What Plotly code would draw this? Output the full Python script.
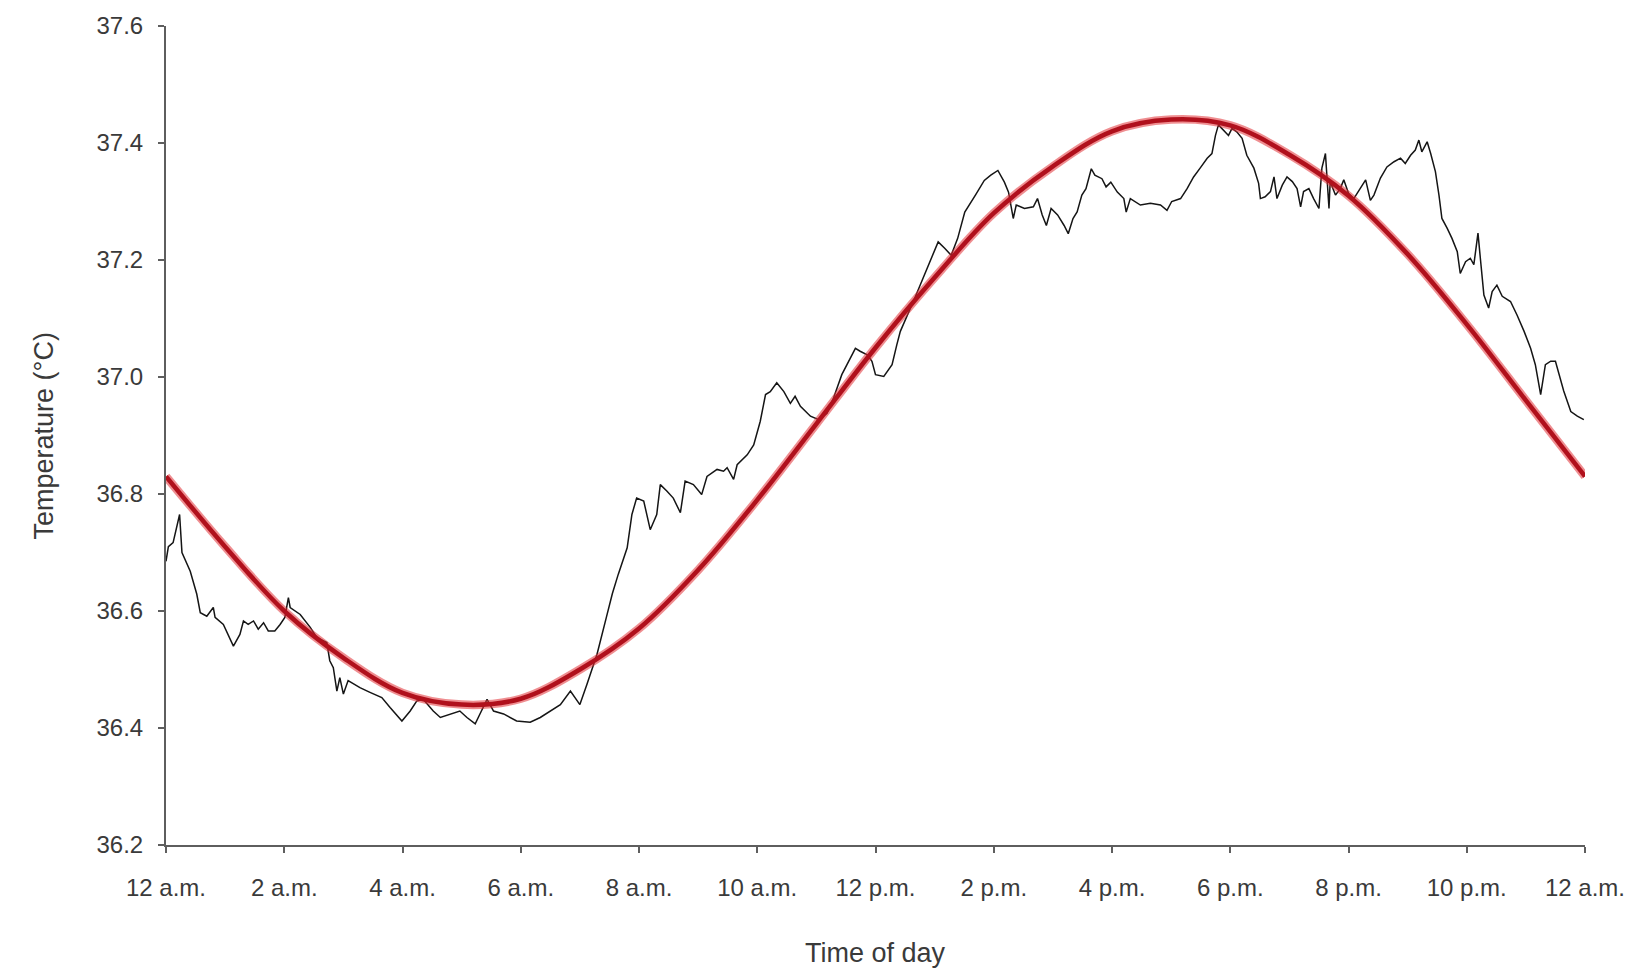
import plotly.graph_objects as go

hours_night = [
    0.00, 0.04, 0.12, 0.23, 0.27, 0.41, 0.52, 0.58, 0.69, 0.80,
    0.83, 0.97, 1.14, 1.25, 1.31, 1.39, 1.48, 1.56, 1.65, 1.73,
    1.84, 1.93, 2.01, 2.07, 2.10, 2.27, 2.44, 2.55, 2.72, 2.77,
    2.83, 2.89, 2.94, 3.00, 3.08, 3.28, 3.45, 3.65, 3.79, 3.99,
    4.13, 4.24, 4.35, 4.52, 4.64, 4.81, 4.97, 5.09, 5.23, 5.31,
    5.43, 5.54, 5.71, 5.93, 6.16, 6.33, 6.50, 6.67, 6.84, 7.00,
    7.12, 7.29, 7.45, 7.55,
]
temp_night = [
    36.685, 36.710, 36.717, 36.765, 36.700, 36.668, 36.629, 36.597, 36.591, 36.606,
    36.589, 36.577, 36.540, 36.560, 36.583, 36.577, 36.583, 36.569, 36.580, 36.566,
    36.566, 36.577, 36.589, 36.623, 36.606, 36.594, 36.572, 36.555, 36.546, 36.515,
    36.503, 36.463, 36.486, 36.458, 36.481, 36.469, 36.461, 36.452, 36.435, 36.412,
    36.429, 36.446, 36.449, 36.429, 36.418, 36.424, 36.429, 36.418, 36.407, 36.424,
    36.449, 36.429, 36.424, 36.412, 36.410, 36.418, 36.429, 36.440, 36.463, 36.440,
    36.475, 36.526, 36.590, 36.630,
]

hours_morning = [
    7.65, 7.80, 7.88, 7.96, 8.08, 8.19, 8.30, 8.36, 8.47, 8.58,
    8.70, 8.78, 8.92, 9.06, 9.15, 9.32, 9.43, 9.49, 9.60, 9.66,
    9.83, 9.94, 10.05, 10.14, 10.22, 10.33, 10.45, 10.56, 10.64, 10.73,
    10.90, 11.04, 11.18, 11.29, 11.43, 11.57, 11.66, 11.74, 11.86, 11.94,
    12.00, 12.14, 12.28, 12.36,
]
temp_morning = [
    36.663, 36.708, 36.765, 36.793, 36.788, 36.739, 36.765, 36.816, 36.805, 36.793,
    36.768, 36.822, 36.816, 36.799, 36.830, 36.842, 36.839, 36.845, 36.825, 36.850,
    36.867, 36.884, 36.924, 36.970, 36.975, 36.990, 36.975, 36.955, 36.967, 36.950,
    36.933, 36.927, 36.938, 36.964, 37.004, 37.032, 37.049, 37.044, 37.038, 37.027,
    37.004, 37.001, 37.021, 37.055,
]

hours_afternoon = [
    12.42, 12.64, 12.87, 13.06, 13.17, 13.28, 13.39, 13.51, 13.69, 13.84,
    13.95, 14.07, 14.18, 14.25, 14.33, 14.38, 14.52, 14.67, 14.74, 14.82,
    14.89, 14.97, 15.08, 15.19, 15.26, 15.34, 15.41, 15.49, 15.56, 15.65,
    15.71, 15.83, 15.90, 15.98, 16.09, 16.20, 16.24,
]
temp_afternoon = [
    37.078, 37.129, 37.186, 37.231, 37.220, 37.208, 37.237, 37.282, 37.311, 37.336,
    37.345, 37.353, 37.333, 37.316, 37.271, 37.294, 37.288, 37.291, 37.305, 37.277,
    37.259, 37.288, 37.277, 37.259, 37.245, 37.271, 37.282, 37.311, 37.322, 37.356,
    37.345, 37.339, 37.325, 37.333, 37.316, 37.305, 37.282,
]

hours_evening = [
    16.31, 16.48, 16.65, 16.82, 16.93, 17.01, 17.16, 17.27, 17.38, 17.49,
    17.61, 17.69, 17.75, 17.80, 17.89, 17.97, 18.03, 18.11, 18.20, 18.28,
    18.40, 18.48, 18.51, 18.59, 18.68, 18.74, 18.79, 18.88, 18.96, 19.05,
    19.13, 19.19, 19.24, 19.33, 19.41, 19.50, 19.55, 19.61, 19.67, 19.69,
    19.78, 19.86, 19.92, 20.00, 20.09, 20.20, 20.29, 20.37, 20.43, 20.54,
    20.65, 20.77, 20.88, 20.96, 21.05, 21.13, 21.19, 21.24, 21.33, 21.39,
    21.47, 21.53, 21.58, 21.67, 21.75, 21.84, 21.89, 21.98, 22.06, 22.12,
    22.19, 22.23, 22.29, 22.37, 22.43, 22.51, 22.60, 22.74, 22.85, 22.97,
    23.08, 23.16, 23.25, 23.33, 23.42, 23.50, 23.59, 23.64, 23.76, 23.87,
    23.98,
]
temp_evening = [
    37.305, 37.294, 37.297, 37.294, 37.285, 37.300, 37.305, 37.322, 37.342, 37.357,
    37.374, 37.382, 37.413, 37.431, 37.422, 37.413, 37.425, 37.419, 37.408, 37.379,
    37.357, 37.331, 37.305, 37.308, 37.317, 37.342, 37.305, 37.328, 37.342, 37.334,
    37.322, 37.291, 37.317, 37.322, 37.305, 37.288, 37.357, 37.382, 37.288, 37.334,
    37.311, 37.322, 37.337, 37.314, 37.305, 37.322, 37.337, 37.302, 37.311, 37.340,
    37.359, 37.368, 37.374, 37.365, 37.379, 37.388, 37.405, 37.385, 37.402, 37.382,
    37.351, 37.311, 37.271, 37.254, 37.237, 37.214, 37.177, 37.197, 37.203, 37.192,
    37.246, 37.203, 37.140, 37.118, 37.146, 37.157, 37.138, 37.129, 37.106, 37.078,
    37.049, 37.021, 36.970, 37.021, 37.027, 37.027, 36.993, 36.976, 36.941, 36.933,
    36.927,
]

# ---- fitted rhythm (red curve) ----
fit_hours = list(range(0, 25))
fit_temp = [36.83, 36.71, 36.60, 36.52, 36.46, 36.44, 36.45, 36.50, 36.57, 36.67,
            36.79, 36.92, 37.05, 37.17, 37.28, 37.36, 37.42, 37.44, 37.43, 37.38,
            37.31, 37.21, 37.09, 36.96, 36.83]

# ---- axis ticks ----
x_tickvals = [0, 2, 4, 6, 8, 10, 12, 14, 16, 18, 20, 22, 24]
x_ticktext = ["12 a.m.", "2 a.m.", "4 a.m.", "6 a.m.", "8 a.m.", "10 a.m.",
              "12 p.m.", "2 p.m.", "4 p.m.", "6 p.m.", "8 p.m.", "10 p.m.", "12 a.m."]
y_tickvals = [36.2, 36.4, 36.6, 36.8, 37.0, 37.2, 37.4, 37.6]
y_ticktext = ["36.2", "36.4", "36.6", "36.8", "37.0", "37.2", "37.4", "37.6"]

obs_hours = hours_night + hours_morning + hours_afternoon + hours_evening
obs_temp = temp_night + temp_morning + temp_afternoon + temp_evening

FONT = "Liberation Sans, Arial, Helvetica, sans-serif"
TXT = "#3a3a3a"
AX = "#5e5e5e"

fig = go.Figure()
fig.add_trace(go.Scatter(x=obs_hours, y=obs_temp, mode="lines",
                         line=dict(color="#151515", width=1.5),
                         showlegend=False, hoverinfo="skip"))
# soft halo + dark core for the fitted curve
fig.add_trace(go.Scatter(x=fit_hours, y=fit_temp, mode="lines",
                         line=dict(color="rgba(225,50,55,0.55)", width=8.5, shape="spline", smoothing=1.0),
                         showlegend=False, hoverinfo="skip"))
fig.add_trace(go.Scatter(x=fit_hours, y=fit_temp, mode="lines",
                         line=dict(color="#b0101c", width=4.5, shape="spline", smoothing=1.0),
                         showlegend=False, hoverinfo="skip"))

fig.update_layout(
    width=1641, height=969, autosize=False,
    margin=dict(l=166, r=56, t=24, b=124),
    paper_bgcolor="white", plot_bgcolor="white",
    font=dict(family=FONT, color=TXT, size=24),
    xaxis=dict(range=[0, 24], tickvals=x_tickvals, ticktext=x_ticktext,
               showline=True, linecolor=AX, linewidth=2, mirror=False,
               ticks="outside", ticklen=6, tickwidth=1.5, tickcolor=AX,
               showgrid=False, zeroline=False, ticklabelstandoff=14,
               tickfont=dict(size=24, color=TXT, family=FONT)),
    yaxis=dict(range=[36.2, 37.6], tickvals=y_tickvals, ticktext=y_ticktext,
               showline=True, linecolor=AX, linewidth=2,
               ticks="outside", ticklen=6, tickwidth=1.5, tickcolor=AX,
               showgrid=False, zeroline=False, ticklabelstandoff=10,
               tickfont=dict(size=24, color=TXT, family=FONT)),
    annotations=[
        dict(text="Time of day", xref="paper", yref="paper", x=0.5, y=-0.1315,
             xanchor="center", yanchor="middle", showarrow=False,
             font=dict(size=27, color=TXT, family=FONT)),
        dict(text="Temperature (°C)", xref="paper", yref="paper", x=-0.086, y=0.5,
             xanchor="center", yanchor="middle", textangle=-90, showarrow=False,
             font=dict(size=27, color=TXT, family=FONT)),
    ],
)

fig.write_html("out.html", config={"displayModeBar": False},
               post_script="document.body.style.margin='0';")
